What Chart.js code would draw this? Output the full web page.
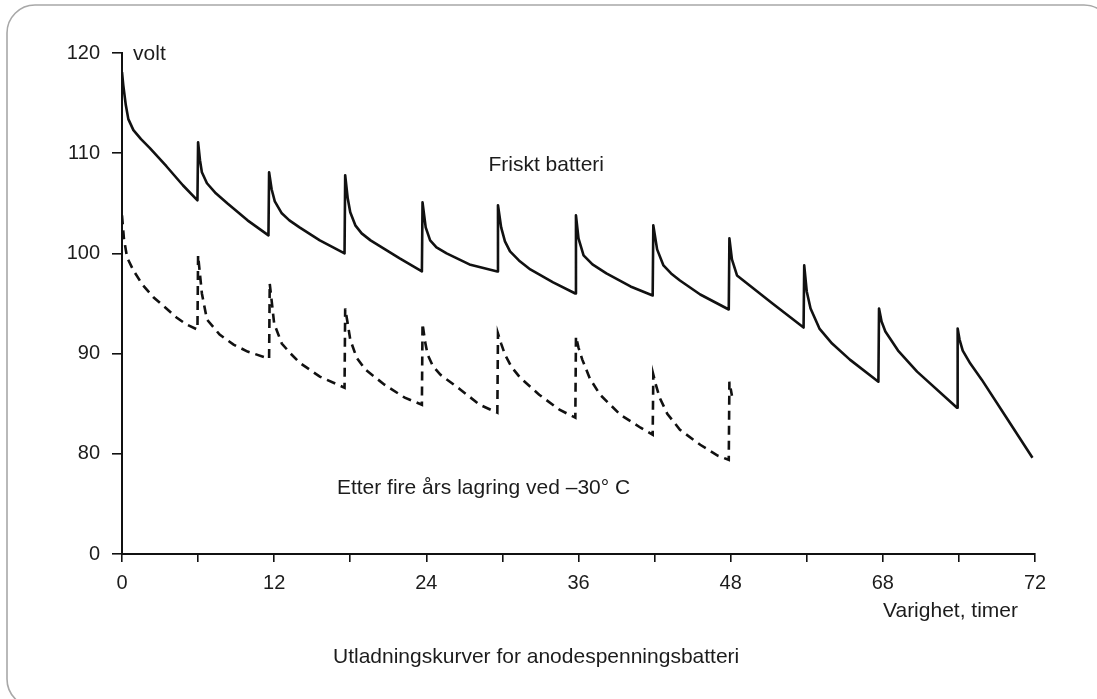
<!DOCTYPE html>
<html>
<head>
<meta charset="utf-8">
<script src="https://cdn.jsdelivr.net/npm/chart.js@4.4.0/dist/chart.umd.min.js"></script>
<style>
  html, body { margin: 0; padding: 0; background: #ffffff; }
  #wrap { position: relative; width: 1097px; height: 699px; overflow: hidden; }
</style>
</head>
<body>
<div id="wrap"><canvas id="c" width="1097" height="699"></canvas></div>
<script>
// ---- Data ----
const friskTimes = [0, 0.1, 0.3, 0.5, 0.9, 1.5, 2.2, 3.5, 4.8, 5.95,
  6.0, 6.15, 6.3, 6.7, 7.4, 8.3, 9.9, 11.55,
  11.6, 11.8, 12.05, 12.6, 13.2, 14.0, 15.6, 17.55,
  17.6, 17.8, 18.0, 18.4, 18.9, 19.6, 21.9, 23.65,
  23.7, 23.95, 24.3, 24.8, 25.6, 27.4, 29.6,
  29.65, 29.9, 30.2, 30.6, 31.3, 32.2, 34.0, 35.75,
  35.8, 36.0, 36.4, 37.1, 38.2, 40.1, 41.85,
  41.9, 42.2, 42.7, 43.3, 44.0, 45.6, 47.85,
  47.9, 48.1, 48.5, 49.5, 51.3, 53.75,
  53.8, 54.0, 54.3, 55.0, 56.0, 57.4, 59.65,
  59.7, 59.9, 60.2, 61.2, 62.7, 65.85,
  65.9, 66.05, 66.3, 66.9, 67.8, 69.6, 71.8];
const friskVolts = [118.1, 116.8, 114.8, 113.4, 112.3, 111.4, 110.5, 108.7, 106.8, 105.3,
  111.1, 109.3, 108.1, 107.0, 106.0, 105.0, 103.3, 101.8,
  108.1, 106.4, 105.2, 104.0, 103.3, 102.6, 101.3, 100.0,
  107.8, 105.5, 104.1, 102.8, 102.0, 101.3, 99.5, 98.2,
  105.1, 102.6, 101.3, 100.6, 100.0, 98.9, 98.2,
  104.8, 102.6, 101.2, 100.2, 99.3, 98.4, 97.1, 96.0,
  103.8, 101.5, 99.8, 98.9, 98.0, 96.7, 95.8,
  102.8, 100.4, 98.8, 98.0, 97.3, 95.9, 94.4,
  101.5, 99.4, 97.8, 96.8, 95.0, 92.6,
  98.8, 96.2, 94.5, 92.5, 91.0, 89.4, 87.2,
  94.5, 93.2, 92.2, 90.3, 88.2, 84.6,
  92.5, 91.4, 90.3, 89.0, 87.4, 83.9, 79.6];

const lagretTimes = [0, 0.15, 0.4, 0.9, 1.6, 2.5, 3.5, 4.3, 5.1, 5.95,
  6.0, 6.3, 6.7, 7.7, 8.8, 9.9, 11.6,
  11.65, 12.0, 12.6, 13.3, 14.0, 15.6, 17.55,
  17.6, 17.8, 18.0, 18.5, 19.2, 20.7, 22.3, 23.65,
  23.7, 23.9, 24.1, 24.5, 25.1, 26.7, 28.2, 29.6,
  29.65, 29.9, 30.2, 30.7, 31.4, 32.9, 34.5, 35.75,
  35.8, 36.0, 36.3, 36.9, 37.7, 39.3, 40.9, 41.85,
  41.9, 42.1, 42.4, 43.0, 44.0, 45.6, 47.0, 47.85,
  47.9, 48.1];
const lagretVolts = [103.8, 101.5, 99.6, 98.3, 96.9, 95.6, 94.5, 93.6, 92.9, 92.4,
  99.8, 96.0, 93.4, 91.9, 90.9, 90.2, 89.5,
  97.0, 93.0, 91.0, 90.0, 89.1, 87.7, 86.6,
  94.5, 93.0, 91.4, 89.6, 88.4, 86.9, 85.6, 84.9,
  93.0, 91.2, 89.9, 88.8, 87.9, 86.4, 84.9, 84.1,
  92.0, 91.0, 89.9, 88.7, 87.6, 85.9, 84.4, 83.6,
  91.7, 90.6, 89.4, 87.5, 85.9, 83.9, 82.6, 81.9,
  87.9, 86.9, 85.6, 84.0, 82.4, 80.9, 79.8, 79.4,
  87.2, 85.8];

const xTickValues = [0, 12, 24, 36, 48, 60, 72];
const xTickText   = ['0', '12', '24', '36', '48', '68', '72'];
const yTickValues = [70, 80, 90, 100, 110, 120];
const yTickText   = ['0', '80', '90', '100', '110', '120'];

const seriesNames = ['Friskt batteri', 'Etter fire års lagring ved –30° C'];
const yUnit = 'volt';
const xTitle = 'Varighet, timer';
const caption = 'Utladningskurver for anodespenningsbatteri';

// ---- Build points ----
const toPoints = (ts, vs) => ts.map((t, i) => ({ x: t, y: vs[i] }));

const FONT = "'Liberation Sans', Arial, Helvetica, sans-serif";
const INK = '#1c1c1c';

const annotations = {
  id: 'annotations',
  beforeDraw(chart) {
    const ctx = chart.ctx;
    ctx.save();
    ctx.fillStyle = '#ffffff';
    ctx.fillRect(0, 0, chart.width, chart.height);
    // rounded frame
    const x0 = 7, y0 = 5, x1 = 1112, y1 = 707, r = 28;
    ctx.beginPath();
    ctx.moveTo(x0 + r, y0);
    ctx.lineTo(x1 - r, y0);
    ctx.arcTo(x1, y0, x1, y0 + r, r);
    ctx.lineTo(x1, y1 - r);
    ctx.arcTo(x1, y1, x1 - r, y1, r);
    ctx.lineTo(x0 + r, y1);
    ctx.arcTo(x0, y1, x0, y1 - r, r);
    ctx.lineTo(x0, y0 + r);
    ctx.arcTo(x0, y0, x0 + r, y0, r);
    ctx.closePath();
    ctx.strokeStyle = '#a8a8a8';
    ctx.lineWidth = 1.6;
    ctx.stroke();
    ctx.restore();
  },
  afterDraw(chart) {
    const ctx = chart.ctx;
    const xs = chart.scales.x, ys = chart.scales.y;
    ctx.save();
    ctx.fillStyle = INK;
    ctx.textAlign = 'left';
    ctx.textBaseline = 'middle';
    ctx.font = '21px ' + FONT;
    // in-plot labels anchored to data coordinates
    ctx.fillText(yUnit, xs.getPixelForValue(0.87), ys.getPixelForValue(119.9));
    ctx.fillText(seriesNames[0], xs.getPixelForValue(28.9), ys.getPixelForValue(108.8));
    ctx.fillText(seriesNames[1], xs.getPixelForValue(16.95), ys.getPixelForValue(76.6));
    // axis title and caption
    ctx.fillText(xTitle, 883, 611);
    ctx.fillText(caption, 333, 657);
    ctx.restore();
  }
};

new Chart(document.getElementById('c'), {
  type: 'line',
  data: {
    datasets: [
      {
        label: seriesNames[0],
        data: toPoints(friskTimes, friskVolts),
        borderColor: '#111111',
        borderWidth: 2.6,
        borderJoinStyle: 'round',
        pointRadius: 0,
        fill: false,
        tension: 0
      },
      {
        label: seriesNames[1],
        data: toPoints(lagretTimes, lagretVolts),
        borderColor: '#111111',
        borderWidth: 2.6,
        borderDash: [9, 6],
        pointRadius: 0,
        fill: false,
        tension: 0
      }
    ]
  },
  options: {
    responsive: false,
    animation: false,
    devicePixelRatio: 1,
    layout: { padding: { left: 0, top: 53, right: 62, bottom: 0 } },
    plugins: {
      legend: { display: false },
      tooltip: { enabled: false },
      title: { display: false }
    },
    scales: {
      x: {
        type: 'linear',
        min: 0,
        max: 72,
        afterFit(s) { s.height = 145; },
        afterBuildTicks(s) {
          const t = [];
          for (let v = 0; v <= 72; v += 6) t.push({ value: v });
          s.ticks = t;
        },
        border: { display: true, color: '#111111', width: 2 },
        grid: { drawOnChartArea: false, drawTicks: true, tickLength: 8, color: '#111111', lineWidth: 1.6 },
        ticks: {
          autoSkip: false,
          maxRotation: 0,
          padding: 9,
          color: INK,
          font: { family: FONT, size: 20 },
          callback(v) {
            const i = xTickValues.indexOf(v);
            return i >= 0 ? xTickText[i] : '';
          }
        }
      },
      y: {
        type: 'linear',
        min: 70,
        max: 120,
        afterFit(s) { s.width = 122; },
        afterBuildTicks(s) { s.ticks = yTickValues.map(v => ({ value: v })); },
        border: { display: true, color: '#111111', width: 2 },
        grid: { drawOnChartArea: false, drawTicks: true, tickLength: 10, color: '#111111', lineWidth: 1.6 },
        ticks: {
          autoSkip: false,
          padding: 12,
          color: INK,
          font: { family: FONT, size: 20 },
          callback(v) {
            const i = yTickValues.indexOf(v);
            return i >= 0 ? yTickText[i] : '';
          }
        }
      }
    }
  },
  plugins: [annotations]
});
</script>
</body>
</html>
